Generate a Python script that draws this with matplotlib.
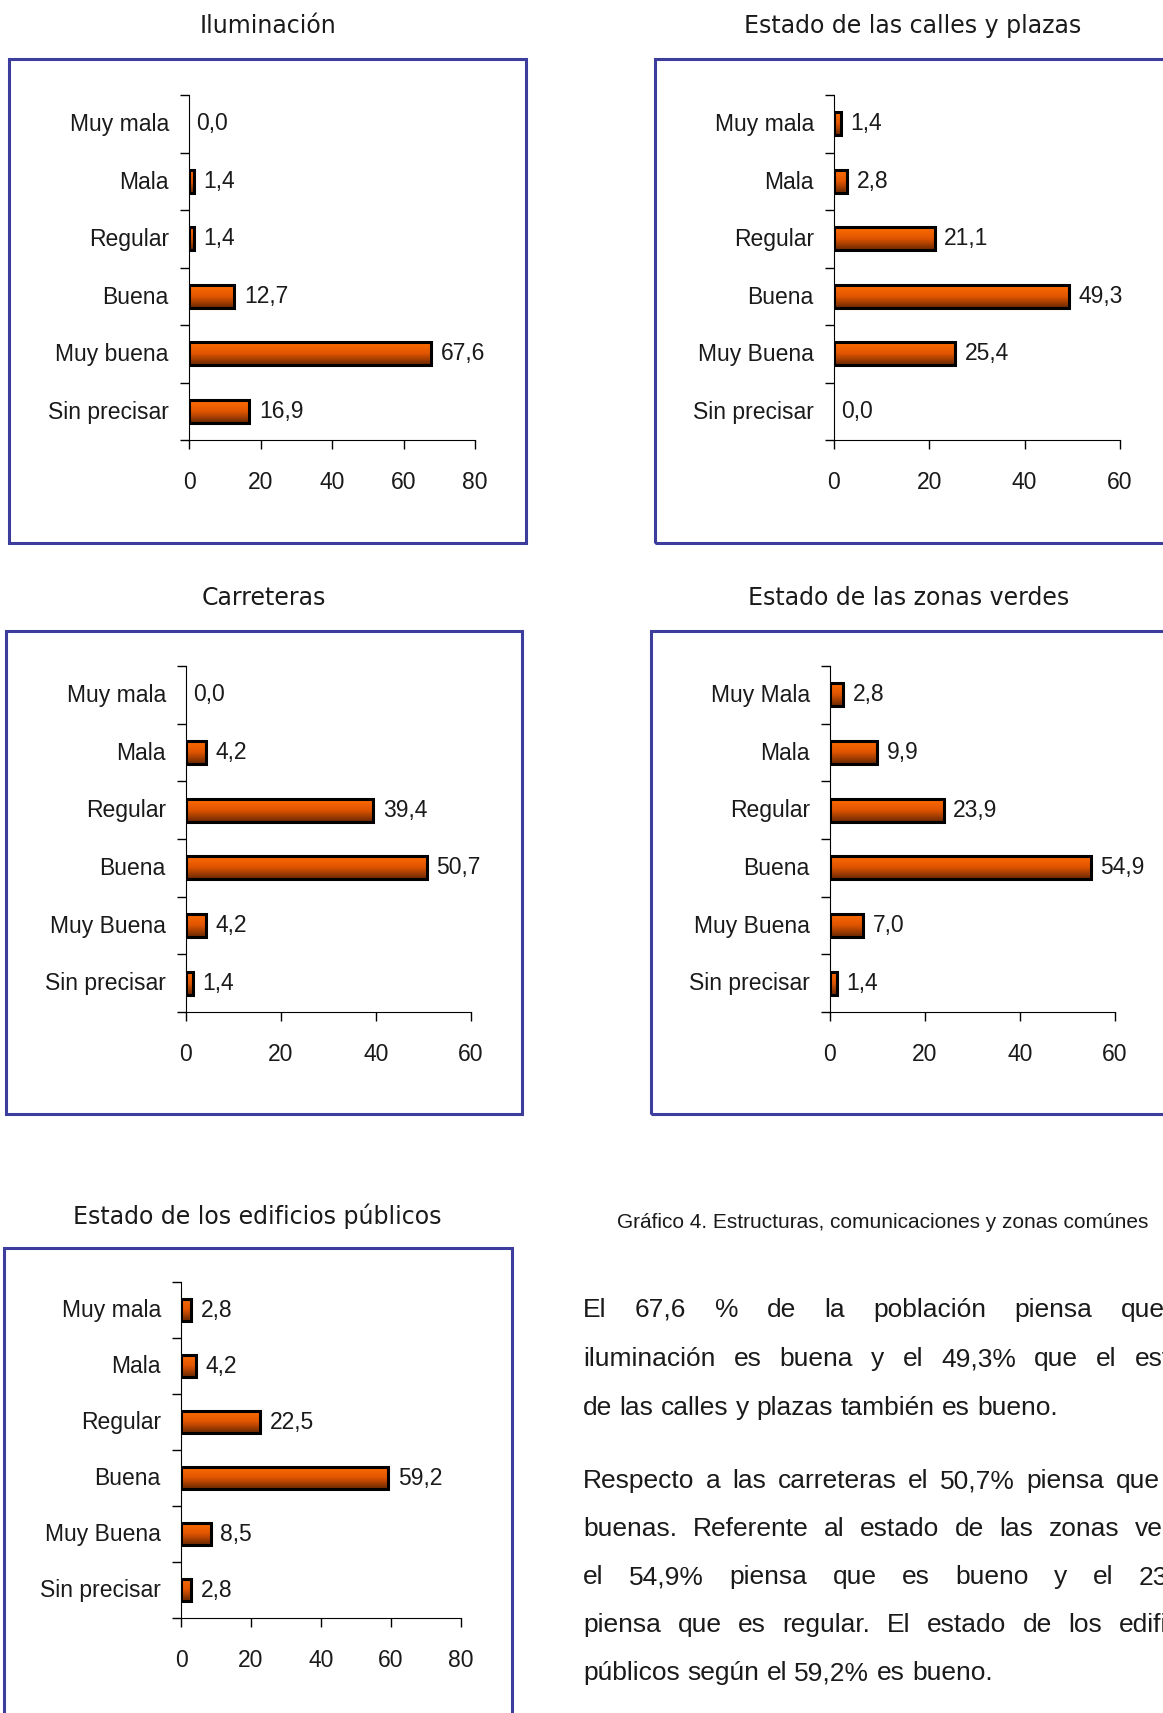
import numpy as np
import matplotlib
matplotlib.use('Agg')
import matplotlib.pyplot as plt
from matplotlib.patches import Rectangle
from matplotlib.colors import LinearSegmentedColormap

# datos de las cinco encuestas
ilum_labels = ['Muy mala', 'Mala', 'Regular', 'Buena', 'Muy buena', 'Sin precisar']
ilum_vals = [0.0, 1.4, 1.4, 12.7, 67.6, 16.9]

calles_labels = ['Muy mala', 'Mala', 'Regular', 'Buena', 'Muy Buena', 'Sin precisar']
calles_vals = [1.4, 2.8, 21.1, 49.3, 25.4, 0.0]

carr_labels = ['Muy mala', 'Mala', 'Regular', 'Buena', 'Muy Buena', 'Sin precisar']
carr_vals = [0.0, 4.2, 39.4, 50.7, 4.2, 1.4]

verdes_labels = ['Muy Mala', 'Mala', 'Regular', 'Buena', 'Muy Buena', 'Sin precisar']
verdes_vals = [2.8, 9.9, 23.9, 54.9, 7.0, 1.4]

edif_labels = ['Muy mala', 'Mala', 'Regular', 'Buena', 'Muy Buena', 'Sin precisar']
edif_vals = [2.8, 4.2, 22.5, 59.2, 8.5, 2.8]

caption = 'Gráfico 4. Estructuras, comunicaciones y zonas comúnes'
parrafo1 = ['El 67,6 % de la población piensa que la',
            'iluminación es buena y el 49,3% que el estado',
            'de las calles y plazas también es bueno.']
parrafo2 = ['Respecto a las carreteras el 50,7% piensa que son',
            'buenas. Referente al estado de las zonas verdes',
            'el 54,9% piensa que es bueno y el 23,9%',
            'piensa que es regular. El estado de los edificios',
            'públicos según el 59,2% es bueno.']

W, H = 1163, 1713
fig = plt.figure(figsize=(W / 100, H / 100), dpi=100)
fig.patch.set_facecolor('white')

LAB = 'Liberation Sans'
TIT = 'DejaVu Sans'
FS = 16.5
FB = 19
TXT = '#1a1a1a'

cmap = LinearSegmentedColormap.from_list('barra', ['#ff6c00', '#e05500', '#6a2800'])
grad = np.linspace(0, 1, 64).reshape(-1, 1)


def fx(x):
    return x / W


def fy(y):
    return 1 - y / H


def caja(l, t, r, b):
    fig.patches.append(Rectangle((fx(l), fy(b)), (r - l) / W, (b - t) / H,
                                 transform=fig.transFigure, fill=False,
                                 edgecolor='#3d3d9e', lw=2.2))


def panel(titulo, tpos, box, ejes, labels, vals, xmax):
    caja(*box)
    fig.text(fx(tpos[0]), fy(tpos[1]), titulo, ha='center', va='center',
             fontsize=17, family=TIT, color=TXT)
    x0, x1, t, b = ejes
    ax = fig.add_axes([fx(x0), fy(b), (x1 - x0) / W, (b - t) / H])
    h = 0.4
    for i, v in enumerate(vals):
        if v > 0:
            bar = ax.barh(i, v, height=h, color='none', edgecolor='black',
                          lw=2.2, zorder=3)[0]
            im = ax.imshow(grad, cmap=cmap, extent=[0, v, i + h / 2, i - h / 2],
                           aspect='auto', zorder=2, interpolation='bilinear')
            im.set_clip_path(bar)
            off = 7
        else:
            off = 5
        ax.annotate(f'{v:.1f}'.replace('.', ','), (v, i), xytext=(off, 0),
                    textcoords='offset points', va='center', ha='left',
                    fontsize=FS, family=LAB, color=TXT)
    ax.set_xlim(0, xmax)
    ax.set_ylim(len(vals) - 0.5, -0.5)
    ax.set_aspect('auto')
    ax.set_yticks(np.arange(-0.5, len(vals), 1))
    ax.set_yticklabels([])
    ax.set_yticks(np.arange(len(vals)) - 0.03, labels, minor=True)
    ax.tick_params(axis='y', which='major', length=6.5, width=1)
    ax.tick_params(axis='y', which='minor', length=0, pad=14.5,
                   labelsize=FS, labelcolor=TXT)
    ticks = list(range(0, xmax + 1, 20))
    ax.set_xticks(ticks, [str(k) for k in ticks])
    ax.tick_params(axis='x', length=6.5, width=1, pad=16, labelsize=FS,
                   labelcolor=TXT)
    for lb in ax.get_xticklabels() + ax.get_yticklabels(minor=True):
        lb.set_family(LAB)
    ax.spines['top'].set_visible(False)
    ax.spines['right'].set_visible(False)
    ax.patch.set_alpha(0)
    return ax


panel('Iluminación', (268, 26), (9, 59, 526, 543), (189, 475, 95, 440),
      ilum_labels, ilum_vals, 80)
panel('Estado de las calles y plazas', (913, 26), (655, 59, 1300, 543),
      (834, 1120, 95, 440), calles_labels, calles_vals, 60)
panel('Carreteras', (264, 598), (6, 631, 522, 1114), (186, 471, 666, 1012),
      carr_labels, carr_vals, 60)
panel('Estado de las zonas verdes', (909, 598), (651, 631, 1300, 1114),
      (830, 1115, 666, 1012), verdes_labels, verdes_vals, 60)
panel('Estado de los edificios públicos', (257, 1216), (4, 1248, 512, 1800),
      (181, 461, 1282, 1618), edif_labels, edif_vals, 80)

fig.text(fx(617), fy(1223), caption, ha='left', va='center', fontsize=15,
         family=LAB, color=TXT)

# texto justificado, el borde derecho queda fuera de la imagen
rend = fig.canvas.get_renderer()
L, R = 583, 1214


def ancho(s):
    t = fig.text(0, 0, s, fontsize=FB, family=LAB)
    w = t.get_window_extent(rend).width
    t.remove()
    return w


def linea(s, y, justificar):
    words = s.split()
    ws = [ancho(w) for w in words]
    if justificar and len(words) > 1:
        gap = (R - L - sum(ws)) / (len(words) - 1)
    else:
        gap = ancho('a b') - ancho('ab')
    x = L
    for w, wd in zip(words, ws):
        fig.text(fx(x), fy(y), w, ha='left', va='center', fontsize=FB,
                 family=LAB, color=TXT)
        x += wd + gap


ys1 = [1310, 1359, 1408]
ys2 = [1481, 1529, 1577, 1625, 1673]
for k, (s, y) in enumerate(zip(parrafo1, ys1)):
    linea(s, y, k < len(parrafo1) - 1)
for k, (s, y) in enumerate(zip(parrafo2, ys2)):
    linea(s, y, k < len(parrafo2) - 1)

fig.savefig('out.png', dpi=100)
